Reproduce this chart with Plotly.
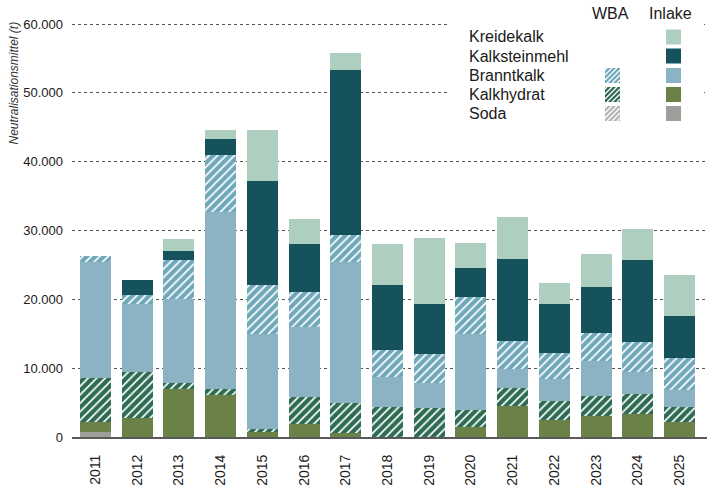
import plotly.graph_objects as go

# ---------------- data (tonnes) ----------------
years = [str(y) for y in range(2011, 2026)]
soda_inlake = [770, 0, 0, 0, 0, 0, 0, 0, 0, 0, 0, 0, 0, 0, 0]
soda_wba = [0] * 15
kalkhydrat_inlake = [1460, 2810, 6990, 6110, 770, 1890, 630, 0, 0, 1500, 4510, 2470, 3060, 3350, 2180]
kalkhydrat_wba = [6400, 6690, 910, 880, 350, 3930, 4360, 4370, 4220, 2430, 2620, 2770, 2910, 2870, 2190]
branntkalk_inlake = [16740, 9860, 12090, 25660, 13830, 10190, 20380, 4320, 3680, 11020, 2770, 3160, 5090, 3290, 2520]
branntkalk_wba = [980, 1260, 5770, 8300, 7180, 5100, 4030, 3970, 4140, 5330, 4070, 3830, 4080, 4320, 4610]
kalksteinmehl_inlake = [0, 2230, 1310, 2280, 15030, 6980, 23880, 9470, 7320, 4320, 11840, 7130, 6690, 11930, 6110]
kreidekalk_inlake = [0, 0, 1750, 1310, 7380, 3640, 2470, 5960, 9610, 3640, 6210, 3060, 4810, 4520, 5970]

y_tickvals = [0, 10000, 20000, 30000, 40000, 50000, 60000]
y_ticktext = ["0", "10.000", "20.000", "30.000", "40.000", "50.000", "60.000"]
y_title = "Neutralisationsmittel (t)"

legend_rows = ["Kreidekalk", "Kalksteinmehl", "Branntkalk", "Kalkhydrat", "Soda"]
legend_cols = ["WBA", "Inlake"]

# ---------------- styles ----------------
C = {
    "kreide": "#aecfbf",
    "ksm": "#15525b",
    "bk_in": "#8cb3c3",
    "bk_wba": "#6fa8b9",
    "kh_in": "#6a8247",
    "kh_wba": "#2e6b53",
    "soda_in": "#9e9e9b",
    "soda_wba": "#b4b4b4",
}
FONT = "Liberation Sans, Arial, sans-serif"
TXT = "#1a1a1a"


def hatch(col):
    return dict(shape="/", fgcolor="white", bgcolor=col, size=6, solidity=0.28, fillmode="replace")


series = [
    ("Soda Inlake", soda_inlake, C["soda_in"], False),
    ("Soda WBA", soda_wba, C["soda_wba"], True),
    ("Kalkhydrat Inlake", kalkhydrat_inlake, C["kh_in"], False),
    ("Kalkhydrat WBA", kalkhydrat_wba, C["kh_wba"], True),
    ("Branntkalk Inlake", branntkalk_inlake, C["bk_in"], False),
    ("Branntkalk WBA", branntkalk_wba, C["bk_wba"], True),
    ("Kalksteinmehl Inlake", kalksteinmehl_inlake, C["ksm"], False),
    ("Kreidekalk Inlake", kreidekalk_inlake, C["kreide"], False),
]

fig = go.Figure()
for name, vals, col, hatched in series:
    marker = dict(color=col, line=dict(width=0))
    if hatched:
        marker["pattern"] = hatch(col)
    fig.add_trace(go.Bar(x=years, y=vals, name=name, marker=marker, showlegend=False))

# ---------------- layout geometry (pixels) ----------------
W, H = 709, 486
L, R, T, B = 72, 2, 21, 49
plot_top, plot_bot = T, H - B
PW, PH = W - L - R, plot_bot - plot_top


def px(x):
    return (x - L) / PW


def py(y):
    return (plot_bot - y) / PH


shapes = []
# white panel behind the legend (hides the gridlines there)
shapes.append(dict(type="rect", xref="paper", yref="paper", x0=px(448), x1=px(704),
                   y0=py(125), y1=py(plot_top - 2), fillcolor="white",
                   line=dict(width=0), layer="above"))

legend_swatches = {
    "Kreidekalk": {"Inlake": C["kreide"]},
    "Kalksteinmehl": {"Inlake": C["ksm"]},
    "Branntkalk": {"WBA": C["bk_wba"], "Inlake": C["bk_in"]},
    "Kalkhydrat": {"WBA": C["kh_wba"], "Inlake": C["kh_in"]},
    "Soda": {"WBA": C["soda_wba"], "Inlake": C["soda_in"]},
}
row_y = [37, 56, 75.5, 94.5, 113.5]
col_x = {"WBA": 612.5, "Inlake": 673.5}
head_x = {"WBA": 610.5, "Inlake": 670.5}
SW = 15
for ry, lab in zip(row_y, legend_rows):
    for cname, col in legend_swatches[lab].items():
        x0, x1 = col_x[cname] - SW / 2, col_x[cname] + SW / 2
        y0, y1 = ry - SW / 2, ry + SW / 2
        shapes.append(dict(type="rect", xref="paper", yref="paper", x0=px(x0), x1=px(x1),
                           y0=py(y1), y1=py(y0), fillcolor=col, line=dict(width=0),
                           layer="above"))
        if cname == "WBA":
            c = x0 + y0 + 2.0
            while c < x1 + y1:
                xa, xb = max(x0, c - y1), min(x1, c - y0)
                if xb > xa:
                    shapes.append(dict(type="line", xref="paper", yref="paper",
                                       x0=px(xa), y0=py(c - xa), x1=px(xb), y1=py(c - xb),
                                       line=dict(color="white", width=1.2), layer="above"))
                c += 5.0

annotations = []
for ry, lab in zip(row_y, legend_rows):
    annotations.append(dict(x=px(467), y=py(ry), xref="paper", yref="paper", text=lab,
                            showarrow=False, xanchor="left", yanchor="middle",
                            font=dict(size=16, color=TXT, family=FONT)))
for cname in legend_cols:
    annotations.append(dict(x=px(head_x[cname]), y=py(14), xref="paper", yref="paper", text=cname,
                            showarrow=False, xanchor="center", yanchor="middle",
                            font=dict(size=16, color=TXT, family=FONT)))
annotations.append(dict(x=px(13.5), y=py(83), xref="paper", yref="paper",
                        text="<i>" + y_title + "</i>", showarrow=False, textangle=-90,
                        xanchor="center", yanchor="middle",
                        font=dict(size=12, color="#333333", family=FONT)))

step = 41.71
x_left = -(95.5 - L) / step
x_right = 14 + (W - R - 679.5) / step

fig.update_layout(
    width=W, height=H,
    margin=dict(l=L, r=R, t=T, b=B, pad=0, autoexpand=False),
    paper_bgcolor="white", plot_bgcolor="white",
    barmode="stack", bargap=0.257,
    separators=",.",
    font=dict(family=FONT, color=TXT),
    xaxis=dict(type="category", range=[x_left, x_right], showgrid=False, zeroline=False,
               showline=True, linecolor="#5a5a5a", linewidth=2, ticks="",
               tickangle=-90, tickfont=dict(size=14, color=TXT), ticklabelstandoff=10,
               automargin=False),
    yaxis=dict(range=[0, 60000 * PH / (plot_bot - 24)], tickvals=y_tickvals,
               ticktext=y_ticktext, showgrid=True, gridcolor="#555555", gridwidth=1,
               griddash="dot", zeroline=False, showline=False, ticks="",
               tickfont=dict(size=13, color=TXT), ticklabelstandoff=8, automargin=False),
    shapes=shapes,
    annotations=annotations,
)

fig.write_html("out.html", config={"displayModeBar": False},
               post_script="document.body.style.margin='0';")
